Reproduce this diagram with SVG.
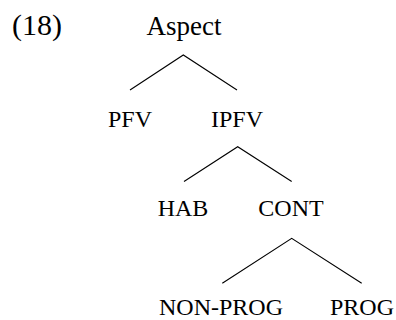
<svg xmlns="http://www.w3.org/2000/svg" width="396" height="320" viewBox="0 0 396 320">
<style>
text{font-family:"Liberation Serif","Times New Roman",serif;fill:#000}
.lab{font-size:24px;text-anchor:middle}
.edge{stroke:#000;stroke-width:1.1;fill:none}
</style>
<rect width="396" height="320" fill="#fff"/>
<text id="num" x="12" y="35" font-size="30">(18)</text>
<g id="aspect"><text x="184" y="35" font-size="27" text-anchor="middle">Aspect</text></g>
<g id="pfv"><text class="lab" x="130" y="126.5">PFV</text></g>
<g id="ipfv"><text class="lab" x="237" y="126.5">IPFV</text></g>
<g id="hab"><text class="lab" x="183" y="216">HAB</text></g>
<g id="cont"><text class="lab" x="291" y="216">CONT</text></g>
<g id="nonprog"><text class="lab" x="221" y="314.5">NON-PROG</text></g>
<g id="prog"><text class="lab" x="362" y="314.5">PROG</text></g>
<g id="connectors" class="edge">
<path d="M130,90 L183.3,55 L237,90"/>
<path d="M184,181.5 L237.7,146.7 L291.7,181.5"/>
<path d="M222.3,283.3 L291.7,238.3 L361.7,283.3"/>
</g>
</svg>
